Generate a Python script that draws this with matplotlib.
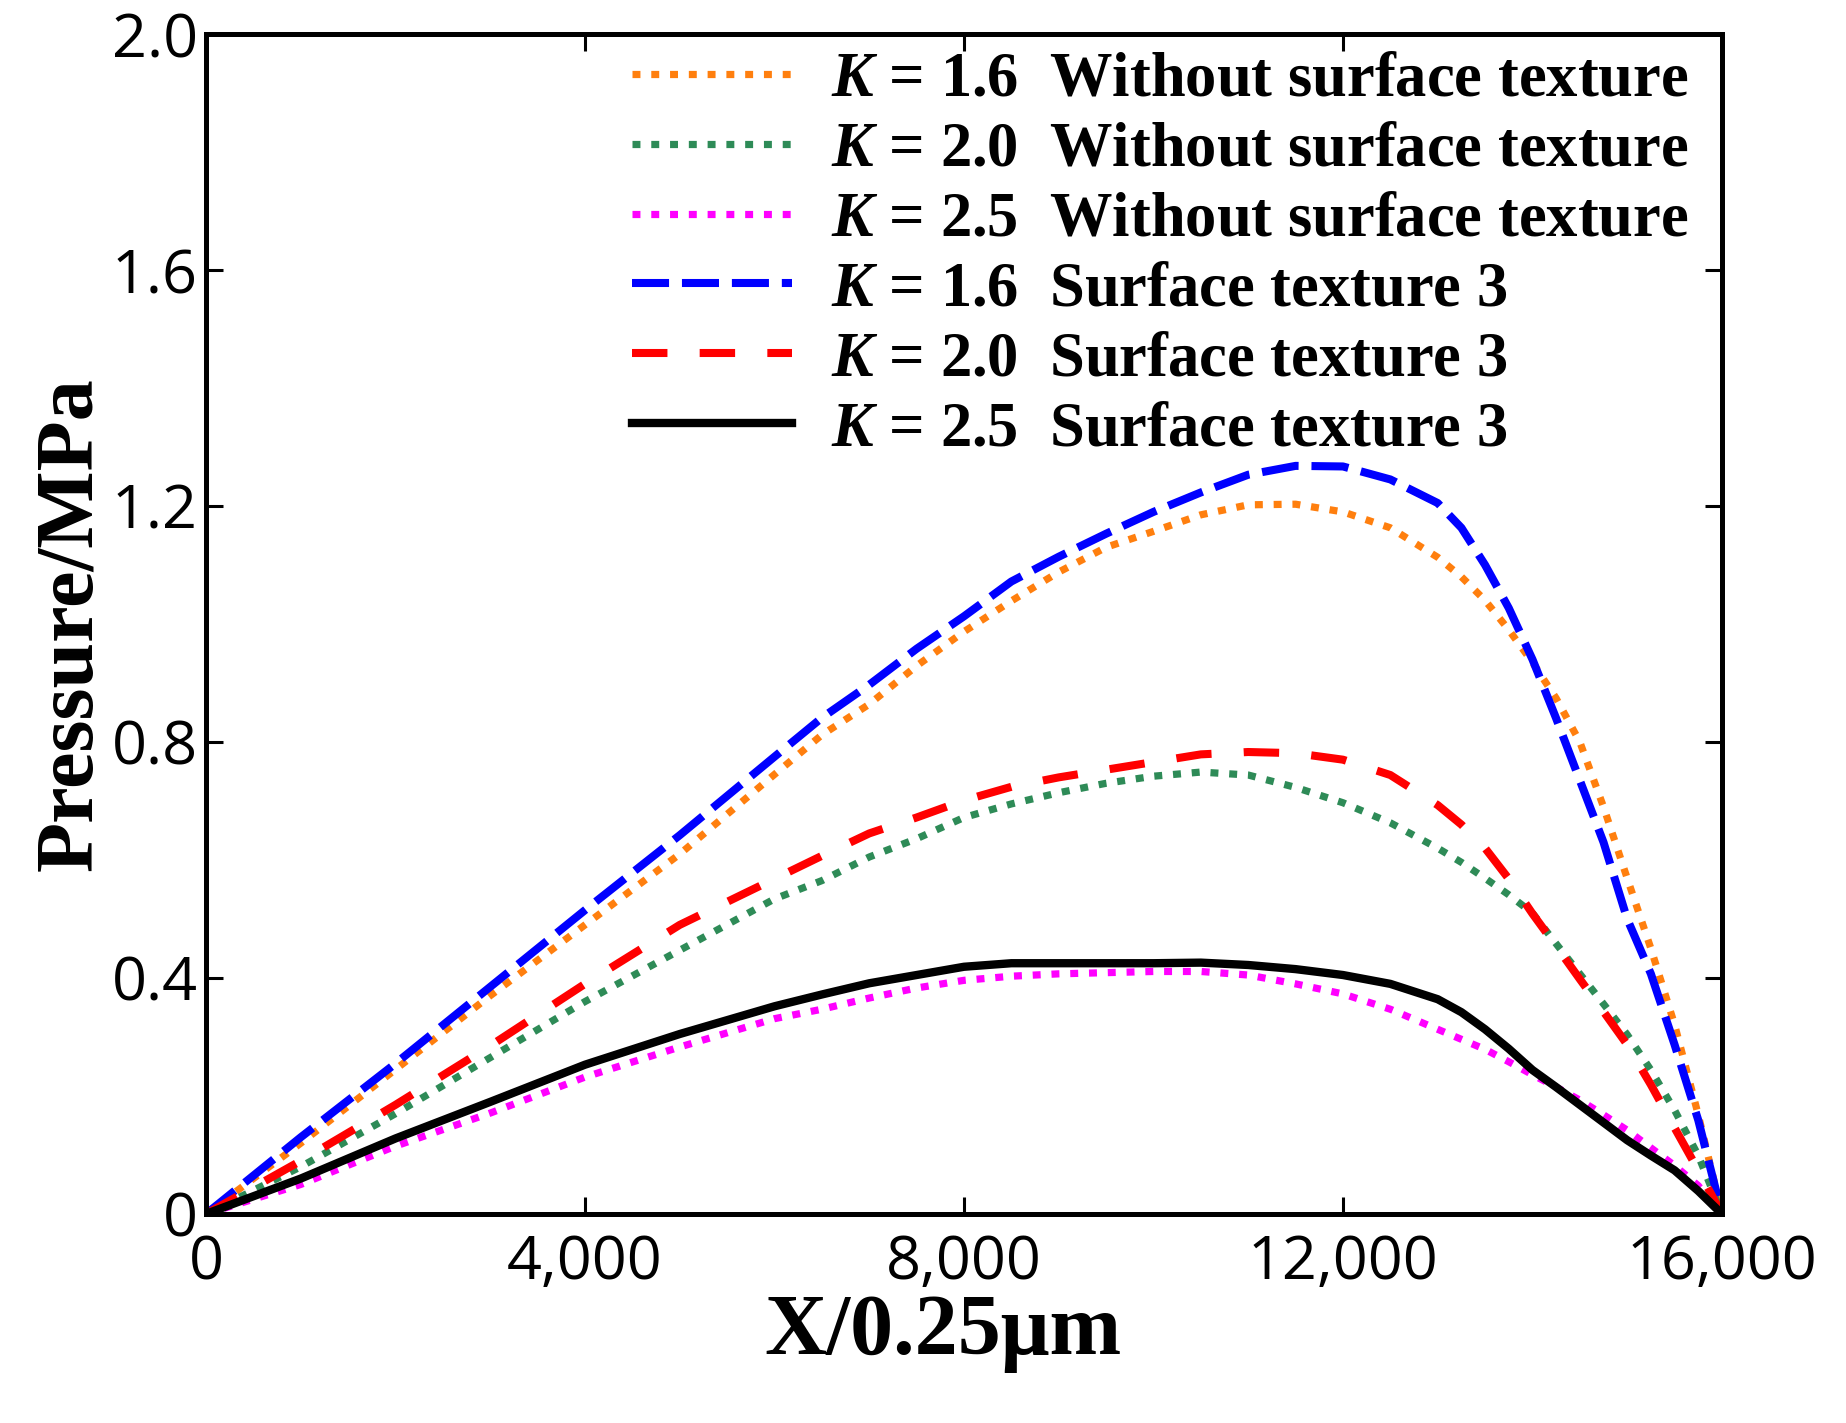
import matplotlib
matplotlib.use('Agg')
import matplotlib.pyplot as plt

# Pressure curves (x in units of 0.25 um, pressure in MPa)
x = [0, 1000, 2000, 3000, 4000, 5000, 6000, 6500, 7000, 7500, 8000, 8500,
     9000, 9500, 10000, 10500, 11000, 11500, 12000, 12500, 13000, 13250, 13500,
     13750, 14000, 14250, 14500, 14750, 15000, 15250, 15500, 15750, 16000]

k16_smooth = [0, 0.12, 0.245, 0.37, 0.49, 0.61, 0.745, 0.812, 0.864, 0.929, 0.987, 1.039,
              1.088, 1.13, 1.157, 1.185, 1.202, 1.203, 1.19, 1.163, 1.113, 1.08, 1.04,
              0.99, 0.935, 0.874, 0.80, 0.69, 0.569, 0.45, 0.321, 0.168, 0]
k20_smooth = [0, 0.08, 0.17, 0.265, 0.36, 0.447, 0.534, 0.565, 0.605, 0.636, 0.672, 0.695,
              0.714, 0.73, 0.742, 0.749, 0.744, 0.723, 0.697, 0.663, 0.62, 0.596, 0.569,
              0.541, 0.51, 0.458, 0.407, 0.356, 0.304, 0.244, 0.176, 0.099, 0]
k25_smooth = [0, 0.05, 0.115, 0.171, 0.232, 0.283, 0.331, 0.347, 0.366, 0.383, 0.396, 0.403,
              0.407, 0.409, 0.411, 0.411, 0.405, 0.39, 0.373, 0.347, 0.313, 0.296, 0.279,
              0.258, 0.236, 0.215, 0.193, 0.168, 0.142, 0.112, 0.082, 0.048, 0]
k16_tex3 = [0, 0.13, 0.255, 0.385, 0.515, 0.642, 0.775, 0.841, 0.897, 0.958, 1.013, 1.072,
            1.114, 1.153, 1.19, 1.223, 1.253, 1.268, 1.267, 1.245, 1.205, 1.163, 1.10,
            1.027, 0.94, 0.84, 0.735, 0.63, 0.50, 0.407, 0.287, 0.159, 0]
k20_tex3 = [0, 0.09, 0.185, 0.285, 0.39, 0.49, 0.568, 0.607, 0.645, 0.672, 0.701, 0.724,
            0.74, 0.753, 0.766, 0.779, 0.783, 0.781, 0.77, 0.744, 0.693, 0.66, 0.62,
            0.568, 0.509, 0.454, 0.398, 0.343, 0.287, 0.219, 0.146, 0.074, 0]
k25_tex3 = [0, 0.06, 0.128, 0.19, 0.253, 0.305, 0.352, 0.372, 0.391, 0.405, 0.419, 0.425,
            0.425, 0.425, 0.425, 0.426, 0.422, 0.415, 0.405, 0.39, 0.364, 0.342, 0.313,
            0.28, 0.244, 0.215, 0.185, 0.155, 0.125, 0.099, 0.074, 0.039, 0]

labels = [r'$K$ = 1.6  Without surface texture',
          r'$K$ = 2.0  Without surface texture',
          r'$K$ = 2.5  Without surface texture',
          r'$K$ = 1.6  Surface texture 3',
          r'$K$ = 2.0  Surface texture 3',
          r'$K$ = 2.5  Surface texture 3']

xticks = [0, 4000, 8000, 12000, 16000]
xtick_labels = ['0', '4,000', '8,000', '12,000', '16,000']
yticks = [0, 0.4, 0.8, 1.2, 1.6, 2.0]
ytick_labels = ['0', '0.4', '0.8', '1.2', '1.6', '2.0']

plt.rcParams['mathtext.fontset'] = 'custom'
plt.rcParams['mathtext.it'] = 'Liberation Serif:italic:bold'
plt.rcParams['mathtext.rm'] = 'Liberation Serif:bold'
plt.rcParams['mathtext.bf'] = 'Liberation Serif:bold'

fig = plt.figure(figsize=(18.46, 14.23), dpi=100)
ax = fig.add_axes([0.1116, 0.1469, 0.8212, 0.8292])

dot = (0, (1.1, 1.5))
ax.plot(x, k16_smooth, color='#FF7F0E', lw=5.2, linestyle=dot, label=labels[0])
ax.plot(x, k20_smooth, color='#2E8B57', lw=5.2, linestyle=dot, label=labels[1])
ax.plot(x, k25_smooth, color='#FF00FF', lw=5.2, linestyle=dot, label=labels[2])
ax.plot(x, k16_tex3, color='#0000FF', lw=5.8, linestyle=(0, (4.6, 1.6)), label=labels[3])
ax.plot(x, k20_tex3, color='#FF0000', lw=5.8, linestyle=(0, (4.4, 4.0)), label=labels[4])
ax.plot(x, k25_tex3, color='black', lw=6, linestyle='-', label=labels[5])

ax.set_xlim(0, 16000)
ax.set_ylim(0, 2.0)
ax.set_xticks(xticks)
ax.set_xticklabels(xtick_labels, fontfamily='Open Sans', fontsize=44)
ax.set_yticks(yticks)
ax.set_yticklabels(ytick_labels, fontfamily='Open Sans', fontsize=44)
ax.tick_params(direction='in', length=12, width=2.2, top=True, right=True)
ax.tick_params(axis='x', pad=14)
ax.tick_params(axis='y', pad=6)
for s in ax.spines.values():
    s.set_linewidth(3.6)

ax.set_xlabel('X/0.25\u03bcm', fontfamily='Liberation Serif', fontweight='bold', fontsize=62)
ax.set_ylabel('Pressure/MPa', fontfamily='Liberation Serif', fontweight='bold', fontsize=59)
ax.xaxis.set_label_coords(0.486, -0.068)
ax.yaxis.set_label_coords(-0.064, 0.5)

leg = ax.legend(loc='upper right', bbox_to_anchor=(0.978, 0.985), frameon=False,
                borderpad=0, borderaxespad=0, handlelength=2.56, handletextpad=0.62,
                labelspacing=0.19,
                prop={'family': 'Liberation Serif', 'weight': 'bold', 'size': 45})

fig.savefig('out.png', dpi=100)
